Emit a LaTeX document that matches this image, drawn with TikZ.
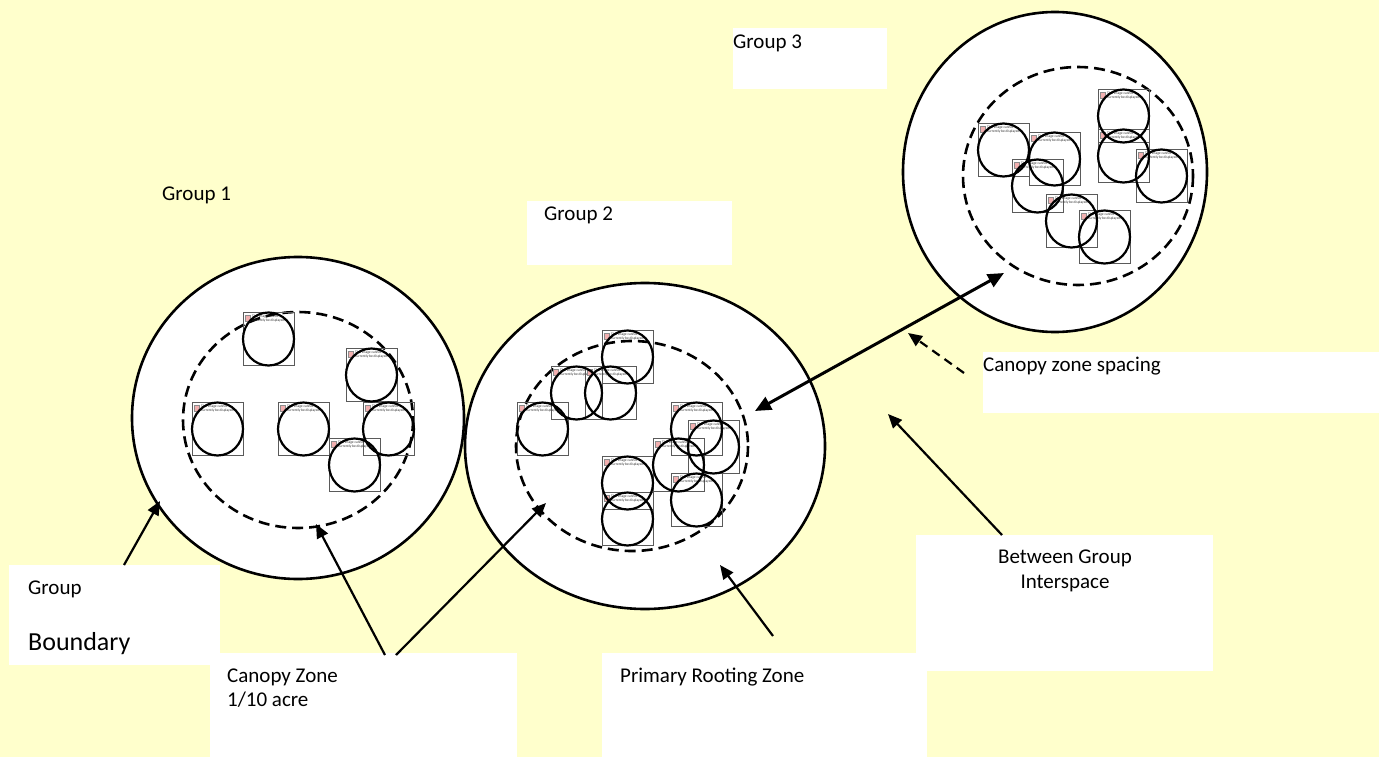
\documentclass[tikz,border=0pt]{standalone}
\usepackage{fontspec}
\setmainfont{Carlito}
\usetikzlibrary{arrows.meta}
\definecolor{bgyellow}{HTML}{FFFFCC}
\definecolor{phgray}{HTML}{5A5A5A}
\definecolor{iconred}{HTML}{F2B0B0}
\tikzset{
  outerc/.style={draw=black, fill=white, line width=2.6pt},
  dashc/.style={draw=black, line width=2.6pt, dash pattern=on 11pt off 6pt},
  phrect/.style={draw=phgray, line width=0.9pt},
  treec/.style={draw=black, line width=2.2pt},
  phtext/.style={font=\fontsize{3.6}{4.2}\selectfont, inner sep=0pt, align=left, text=black!80},
  wbox/.style={fill=white, draw=none, inner sep=0pt, anchor=north west},
  lbl/.style={font=\fontsize{21}{25}\selectfont, inner sep=0pt, text=black},
  arr/.style={line width=2.2pt, -{Triangle[length=14pt,width=12pt]}},
  dbl/.style={line width=3pt, {Triangle[length=16pt,width=14pt]}-{Triangle[length=16pt,width=14pt]}},
  dasharr/.style={line width=2.2pt, dash pattern=on 9pt off 6pt, -{Triangle[length=14pt,width=12pt]}}
}
\def\phlist{243/312,346/348,192/402,278/402,363/402,329/438,%
602/330,551/366,585/366,517/402,671/402,688/420,653/438,602/456,602/492,671/473,%
978/123,1029/132,1012/159,1046/194,1079/210,1098/89,1098/129,1136/149}
\begin{document}
\begin{tikzpicture}[x=1pt,y=-1pt]
\fill[bgyellow] (0,0) rectangle (1379,757);
\useasboundingbox (0,0) rectangle (1379,757);

% group boundaries
\draw[outerc] (298,418) ellipse [x radius=166, y radius=161];
\draw[outerc] (645,446) ellipse [x radius=180, y radius=163];
\draw[outerc] (1055,172) ellipse [x radius=152, y radius=160];

% canopy zones
\draw[dashc] (298,420) ellipse [x radius=115, y radius=108];
\draw[dashc] (632,446) ellipse [x radius=116, y radius=105];
\draw[dashc] (1078,176) ellipse [x radius=115, y radius=109];

% placeholder pictures
\foreach \a/\b in \phlist {
  \draw[phrect] (\a,\b) rectangle ++(51,53);
  \filldraw[fill=iconred, draw=black!45, line width=0.4pt] (\a+2.5,\b+3) rectangle ++(5,6);
  \node[phtext, anchor=north west] (ph-\a-\b) at (\a+9,\b+3) {This image cannot\\currently be displayed.};
}
\foreach \a/\b in \phlist {
  \draw[treec] (\a+25.5,\b+27) ellipse [x radius=25.5, y radius=26.5];
}

% label boxes
\node[wbox, minimum width=211pt, minimum height=100pt] (gbbox) at (9,565) {};
\node[wbox, minimum width=307pt, minimum height=104pt] (czbox) at (210,653) {};
\node[wbox, minimum width=325pt, minimum height=104pt] (prbox) at (602,653) {};
\node[wbox, minimum width=297pt, minimum height=136pt] (bibox) at (916,535) {};
\node[wbox, minimum width=396pt, minimum height=61pt] (spbox) at (983,352) {};
\node[wbox, minimum width=154pt, minimum height=61pt] (g3box) at (733,28) {};
\node[wbox, minimum width=205pt, minimum height=64pt] (g2box) at (527,201) {};

% texts
\node[lbl, anchor=west] (g1t) at (162,195) {Group 1};
\node[lbl, anchor=west] (g2t) at (544,215) {Group 2};
\node[lbl, anchor=west] (g3t) at (733,43) {Group 3};
\node[lbl, anchor=west] (gbt1) at (28,589) {Group};
\node[lbl, anchor=west, font=\fontsize{26}{30}\selectfont] (gbt2) at (28,644) {Boundary};
\node[lbl, anchor=west] (czt1) at (227,677) {Canopy Zone};
\node[lbl, anchor=west] (czt2) at (227,700) {1/10 acre};
\node[lbl, anchor=west] (prt) at (620,677) {Primary Rooting Zone};
\node[lbl] (bit1) at (1065,558) {Between Group};
\node[lbl] (bit2) at (1065,583) {Interspace};
\node[lbl, anchor=west] (spt) at (983,366) {Canopy zone spacing};

% arrow end points
\coordinate (gbS) at (124,565);
\coordinate (gbT) at (160,501);
\coordinate (czS1) at (385,655);
\coordinate (czT1) at (316,524);
\coordinate (czS2) at (396,655);
\coordinate (czT2) at (546,503);
\coordinate (prS) at (773,636);
\coordinate (prT) at (720,565);
\coordinate (biS) at (1002,535);
\coordinate (biT) at (888,414);
\coordinate (spA) at (755,411);
\coordinate (spB) at (1004,273);
\coordinate (dsS) at (964,373);
\coordinate (dsT) at (908,333);

\draw[arr] (gbS) -- (gbT);
\draw[arr] (czS1) -- (czT1);
\draw[arr] (czS2) -- (czT2);
\draw[arr] (prS) -- (prT);
\draw[arr] (biS) -- (biT);
\draw[dbl] (spA) -- (spB);
\draw[dasharr] (dsS) -- (dsT);
\end{tikzpicture}
\end{document}
